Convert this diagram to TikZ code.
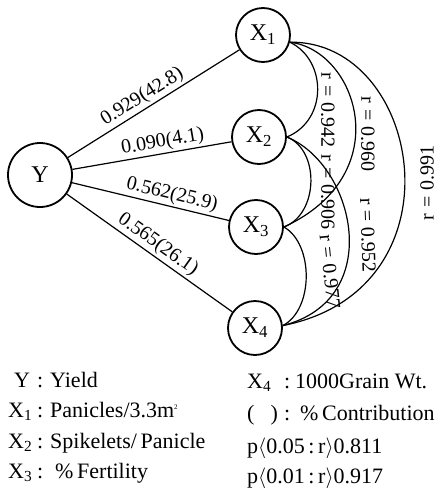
\documentclass[tikz,border=0pt]{standalone}
\usepackage{fontspec}
\setmainfont{Liberation Serif}
\begin{document}
\begin{tikzpicture}[x=1pt,y=-1pt,
  every node/.style={inner sep=0pt},
  var/.style={circle, draw, line width=1.8pt, minimum size=54pt, font=\fontsize{24}{26}\selectfont},
  yvar/.style={var, minimum size=64pt},
  pathline/.style={line width=1.2pt},
  corr/.style={line width=1.2pt},
  elab/.style={font=\fontsize{20}{22}\selectfont, sloped, above, inner sep=2pt},
  rlab/.style={font=\fontsize{20}{22}\selectfont},
  leg/.style={font=\fontsize{22}{24}\selectfont, anchor=base west}]
\useasboundingbox (0,0) rectangle (445,490);
% nodes
\node[yvar] (Y) at (40,175) {Y};
\node[var] (X1) at (263,35) {X\textsubscript{1}};
\node[var] (X2) at (259,137) {X\textsubscript{2}};
\node[var] (X3) at (256,227) {X\textsubscript{3}};
\node[var] (X4) at (255,328) {X\textsubscript{4}};
% path coefficients
\draw[pathline] (Y) -- node[elab,pos=0.47] (p1) {0.929(42.8)} (X1);
\draw[pathline] (Y) -- node[elab,pos=0.58] (p2) {0.090(4.1)} (X2);
\draw[pathline] (Y) -- node[elab,pos=0.62] (p3) {0.562(25.9)} (X3);
\draw[pathline] (Y) -- node[elab,pos=0.51] (p4) {0.565(26.1)} (X4);
% correlations
\draw[corr] (X1.-15) .. controls +(37,18) and +(41,-17) .. (X2.0);
\draw[corr] (X2.0) .. controls +(33,13) and +(35,-13) .. (X3.0);
\draw[corr] (X3.0) .. controls +(30,17) and +(31,-16) .. (X4.5);
\draw[corr] (X1.-15) .. controls +(67,8) and +(115,-53) .. (X3.0);
\draw[corr] (X2.0) .. controls +(68,28) and +(103,-26) .. (X4.5);
\draw[corr] (X1.-15) .. controls +(132,-2) and +(183,-36) .. (X4.5);
% correlation labels
\node[rlab, rotate=-90] (r12) at (328,110) {r\;=\;0.942};
\node[rlab, rotate=-90] (r23) at (328,192) {r\;=\;0.906};
\node[rlab, rotate=-84] (r34) at (330,272) {r\;=\;0.977};
\node[rlab, rotate=-90] (r13) at (368,134) {r\;=\;0.960};
\node[rlab, rotate=-88] (r24) at (368,235) {r\;=\;0.952};
\node[rlab, rotate=90] (r14) at (427,183) {r\;=\;0.991};
% legend left
\node[leg] (a1) at (14,387) {Y};
\node[leg] (a2) at (8,417) {X\textsubscript{1}};
\node[leg] (a3) at (8,448) {X\textsubscript{2}};
\node[leg] (a4) at (8,478) {X\textsubscript{3}};
\node[leg] (c1) at (37,387) {:};
\node[leg] (c2) at (37,417) {:};
\node[leg] (c3) at (37,448) {:};
\node[leg] (c4) at (37,478) {:};
\node[leg] (t1) at (50,387) {Yield};
\node[leg] (t2) at (50,417) {Panicles/3.3m\textsuperscript{\scriptsize 2}};
\node[leg] (t3) at (50,448) {Spikelets/\,Panicle};
\node[leg] (t4) at (55,478) {\%\,Fertility};
% legend right
\node[leg] (b1) at (247,388) {X\textsubscript{4}};
\node[leg] (d1) at (284,388) {:};
\node[leg] (u1) at (295,388) {1000Grain Wt.};
\node[leg] (b2) at (247,420) {(\hspace{16pt})};
\node[leg] (d2) at (284,420) {:};
\node[leg] (u2) at (300,420) {\%\,Contribution};
\node[leg] (b3) at (247,453) {p$\langle$0.05\,:\,r$\rangle$0.811};
\node[leg] (b4) at (247,483) {p$\langle$0.01\,:\,r$\rangle$0.917};
\end{tikzpicture}
\end{document}
